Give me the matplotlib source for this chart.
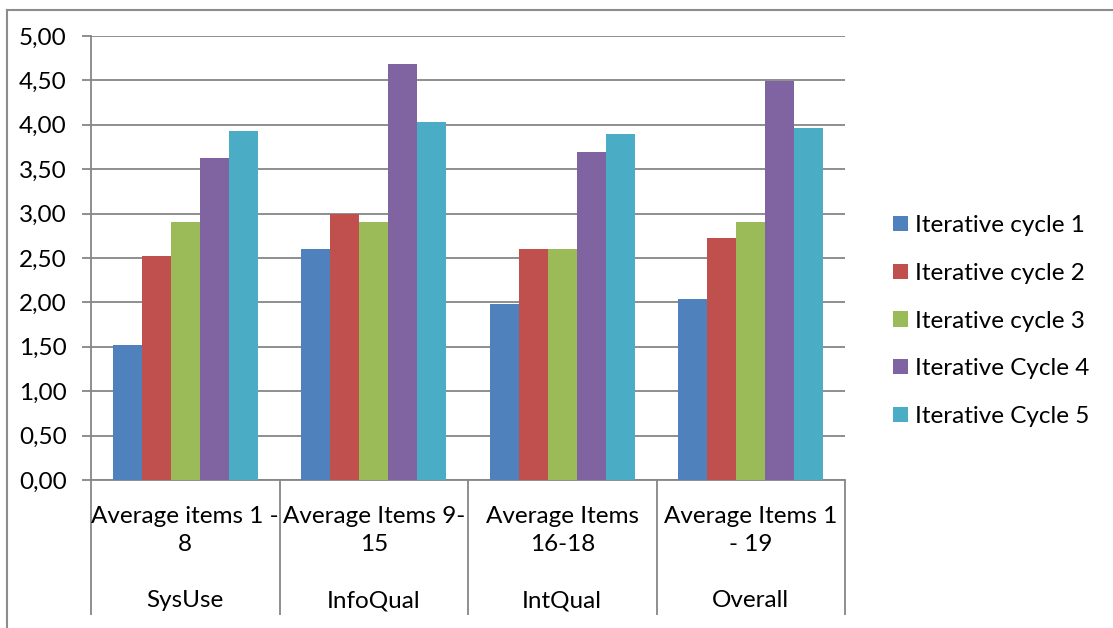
import numpy as np
import matplotlib
matplotlib.use("Agg")
import matplotlib.pyplot as plt
from matplotlib.lines import Line2D
import matplotlib.transforms as mtransforms

plt.rcParams['font.family'] = ['Lato', 'DejaVu Sans']

groups = ["SysUse", "InfoQual", "IntQual", "Overall"]
items = ["Average items 1 -\n8", "Average Items 9-\n15", "Average Items\n16-18", "Average Items 1\n- 19"]
series = ["Iterative cycle 1", "Iterative cycle 2", "Iterative cycle 3",
          "Iterative Cycle 4", "Iterative Cycle 5"]
values = [
    [1.52, 2.60, 1.98, 2.04],
    [2.52, 3.00, 2.60, 2.72],
    [2.90, 2.90, 2.60, 2.90],
    [3.63, 4.68, 3.69, 4.49],
    [3.93, 4.03, 3.90, 3.96],
]
colors = ["#4f81bd", "#c0504d", "#9bbb59", "#8064a2", "#4bacc6"]
grid_col = "#868686"
fs = 17.5

fig = plt.figure(figsize=(11.13, 6.28), dpi=100)
ax = fig.add_axes([91/1113, 1 - 480/628, 754/1113, 444/628])

x = np.arange(len(groups))
w = 0.154
for i, (name, vals) in enumerate(zip(series, values)):
    ax.bar(x + (i - 2) * w, vals, w, color=colors[i], label=name, zorder=3)

ax.set_xlim(-0.5, len(groups) - 0.5)
ax.set_ylim(0, 5)
ax.set_yticks(np.arange(0, 5.01, 0.5))
ax.set_yticklabels([f"{v:.2f}".replace(".", ",") for v in np.arange(0, 5.01, 0.5)])
ax.yaxis.grid(True, color=grid_col, linewidth=1.3, zorder=0)
for s in ["top", "right"]:
    ax.spines[s].set_visible(False)
for s in ["left", "bottom"]:
    ax.spines[s].set_color(grid_col)
    ax.spines[s].set_linewidth(1.3)
ax.tick_params(axis="y", length=6.5, width=1.3, color=grid_col, pad=11, labelsize=fs)

# category dividers
ax.set_xticks(np.arange(-0.5, len(groups), 1.0))
ax.set_xticklabels([])
ax.tick_params(axis="x", length=97, width=1.3, color=grid_col)

trans = mtransforms.blended_transform_factory(ax.transData, ax.transAxes)
for xi, lab, g in zip(x, items, groups):
    ax.text(xi, -0.113, lab, transform=trans, ha="center", va="center",
            fontsize=fs, linespacing=1.42)
    ax.text(xi, -0.272, g, transform=trans, ha="center", va="center", fontsize=fs)

ax.legend(loc="center left", bbox_to_anchor=(802/754, 0.358), frameon=False,
          fontsize=fs, handlelength=0.6, handleheight=0.6, handletextpad=0.3,
          labelspacing=1.1, borderpad=0, borderaxespad=0)

# outer frame (cropped at right and bottom)
fig.add_artist(Line2D([7/1113, 1], [1 - 10/628, 1 - 10/628], color="#8c8c8c", lw=1.5,
                      transform=fig.transFigure))
fig.add_artist(Line2D([7/1113, 7/1113], [0, 1 - 10/628], color="#8c8c8c", lw=1.5,
                      transform=fig.transFigure))

fig.savefig("out.png", dpi=100)
